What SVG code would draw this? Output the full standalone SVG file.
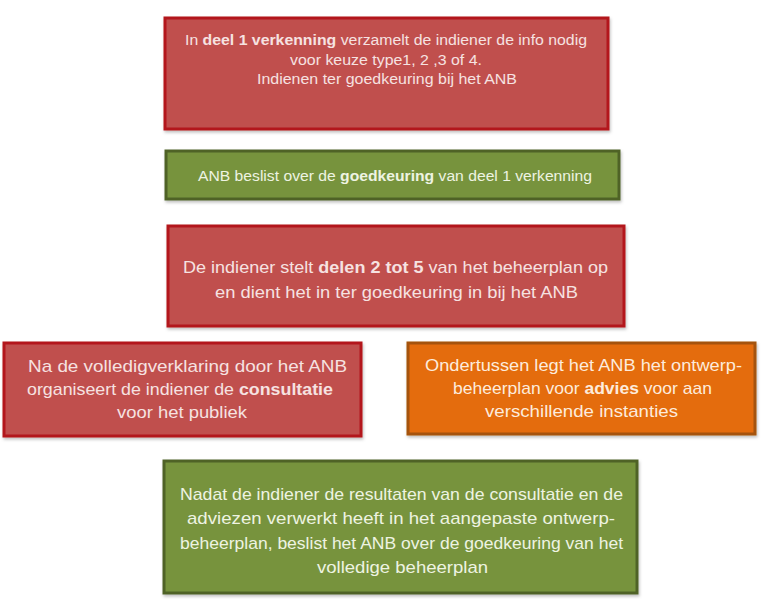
<svg xmlns="http://www.w3.org/2000/svg" width="768" height="609" viewBox="0 0 768 609">
<defs>
<filter id="sh" x="-5%" y="-5%" width="110%" height="120%">
<feDropShadow dx="1" dy="2" stdDeviation="1.5" flood-color="#000" flood-opacity="0.25"/>
</filter>
</defs>
<style>
.red{fill:#C0504D;stroke:#B3171D;stroke-width:3;filter:url(#sh)}
.green{fill:#77933C;stroke:#4F6228;stroke-width:3;filter:url(#sh)}
.orange{fill:#E46C0A;stroke:#A5520C;stroke-width:3;filter:url(#sh)}
text{font-family:"Liberation Sans",Arial,sans-serif;text-anchor:middle}
.s{font-size:14px}
.l{font-size:17px}
.tr{fill:#F6E2E1}
.tg{fill:#EEF3E2}
.to{fill:#FDEBDC}
.b{font-weight:bold}
</style>
<rect width="768" height="609" fill="#FFFFFF"/>
<g id="node1">
<rect class="red" x="165" y="18" width="443" height="111"/>
<text class="s tr" x="386" y="45" textLength="402" lengthAdjust="spacingAndGlyphs">In <tspan class="b">deel 1 verkenning</tspan> verzamelt de indiener de info nodig</text>
<text class="s tr" x="386" y="64.5" textLength="192" lengthAdjust="spacingAndGlyphs">voor keuze type1, 2 ,3 of 4.</text>
<text class="s tr" x="387" y="84" textLength="260" lengthAdjust="spacingAndGlyphs">Indienen ter goedkeuring bij het ANB</text>
</g>
<g id="node2">
<rect class="green" x="166" y="151" width="453" height="48"/>
<text class="s tg" x="395" y="181" textLength="394" lengthAdjust="spacingAndGlyphs">ANB beslist over de <tspan class="b">goedkeuring</tspan> van deel 1 verkenning</text>
</g>
<g id="node3">
<rect class="red" x="168" y="226" width="456" height="100"/>
<text class="l tr" x="395.5" y="273" textLength="425" lengthAdjust="spacingAndGlyphs">De indiener stelt <tspan class="b">delen 2 tot 5</tspan> van het beheerplan op</text>
<text class="l tr" x="396.5" y="298" textLength="363" lengthAdjust="spacingAndGlyphs">en dient het in ter goedkeuring in bij het ANB</text>
</g>
<g id="node4">
<rect class="red" x="4" y="343" width="357" height="93"/>
<text class="l tr" x="187.5" y="372" textLength="319" lengthAdjust="spacingAndGlyphs">Na de volledigverklaring door het ANB</text>
<text class="l tr" x="180" y="395" textLength="306" lengthAdjust="spacingAndGlyphs">organiseert de indiener de <tspan class="b">consultatie</tspan></text>
<text class="l tr" x="182" y="418" textLength="130" lengthAdjust="spacingAndGlyphs">voor het publiek</text>
</g>
<g id="node5">
<rect class="orange" x="408" y="343" width="347" height="91"/>
<text class="l to" x="583.5" y="371" textLength="317" lengthAdjust="spacingAndGlyphs">Ondertussen legt het ANB het ontwerp-</text>
<text class="l to" x="582.5" y="394" textLength="259" lengthAdjust="spacingAndGlyphs">beheerplan voor <tspan class="b">advies</tspan> voor aan</text>
<text class="l to" x="581.5" y="417" textLength="193" lengthAdjust="spacingAndGlyphs">verschillende instanties</text>
</g>
<g id="node6">
<rect class="green" x="164" y="461" width="473" height="132"/>
<text class="l tg" x="401.5" y="500" textLength="443" lengthAdjust="spacingAndGlyphs">Nadat de indiener de resultaten van de consultatie en de</text>
<text class="l tg" x="401" y="524" textLength="428" lengthAdjust="spacingAndGlyphs">adviezen verwerkt heeft in het aangepaste ontwerp-</text>
<text class="l tg" x="401.5" y="549" textLength="443" lengthAdjust="spacingAndGlyphs">beheerplan, beslist het ANB over de goedkeuring van het</text>
<text class="l tg" x="402.5" y="573" textLength="171" lengthAdjust="spacingAndGlyphs">volledige beheerplan</text>
</g>
</svg>
